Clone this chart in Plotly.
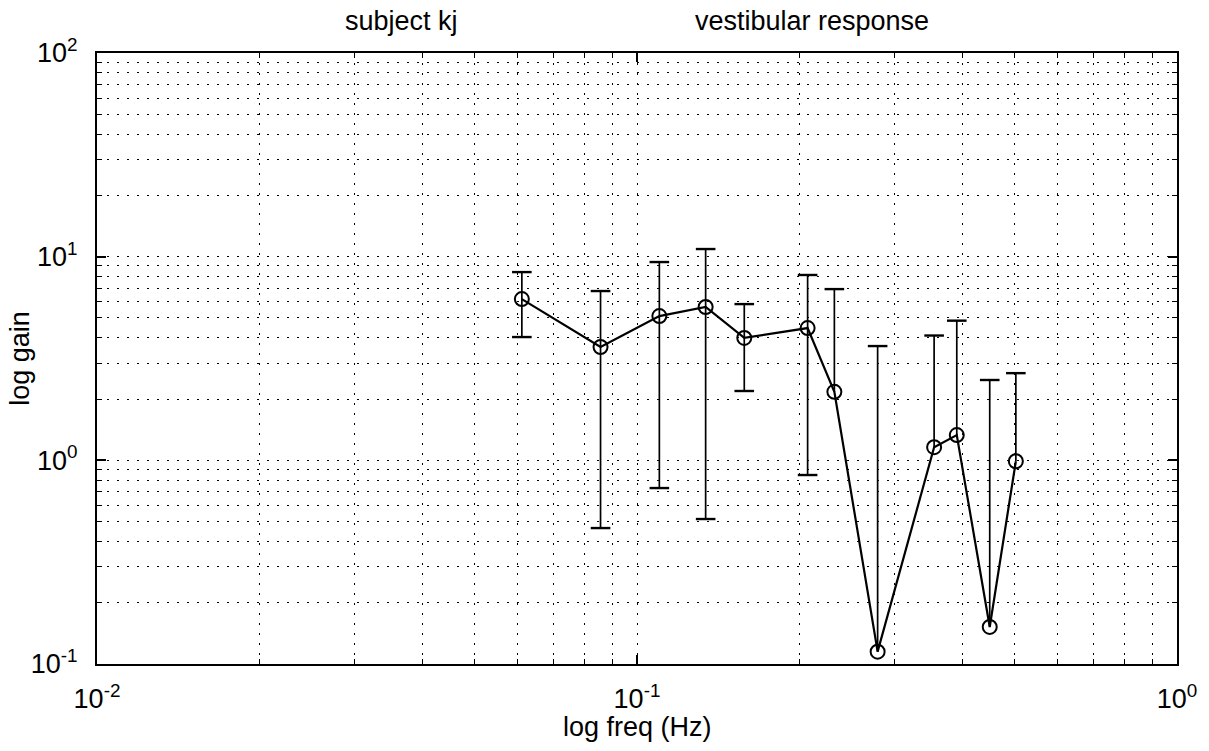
import plotly.graph_objects as go

# ---- data ----
freq = [0.0612, 0.0856, 0.110, 0.134, 0.158, 0.207, 0.232, 0.279, 0.355, 0.391, 0.450, 0.503]
gain = [6.19, 3.60, 5.11, 5.66, 3.99, 4.46, 2.17, 0.115, 1.16, 1.33, 0.152, 0.99]
gain_hi = [8.40, 6.78, 9.41, 10.9, 5.85, 8.13, 6.93, 3.64, 4.10, 4.85, 2.48, 2.68]
gain_lo = [4.03, 0.465, 0.731, 0.515, 2.19, 0.847, None, None, None, None, None, None]

x_tickvals = [0.01, 0.1, 1]
x_ticktext = ["10<sup>-2</sup>", "10<sup>-1</sup>", "10<sup>0</sup>"]
y_tickvals = [0.1, 1, 10, 100]
y_ticktext = ["10<sup>-1</sup>", "10<sup>0</sup>", "10<sup>1</sup>", "10<sup>2</sup>"]

x_minor = [m * 10.0 ** e for e in (-2, -1) for m in range(2, 10)]
y_minor = [m * 10.0 ** e for e in (-1, 0, 1) for m in range(2, 10)]

FONT = "Liberation Sans, Arial, sans-serif"

fig = go.Figure()

# error bar stems
ex, ey = [], []
for f, g, lo, hi in zip(freq, gain, gain_lo, gain_hi):
    ex += [f, f, None]
    ey += [lo if lo is not None else g, hi, None]
fig.add_trace(go.Scatter(x=ex, y=ey, mode="lines",
                         line=dict(color="black", width=1.7),
                         hoverinfo="skip", showlegend=False))

# caps
cx = freq + [f for f, lo in zip(freq, gain_lo) if lo is not None]
cy = gain_hi + [lo for lo in gain_lo if lo is not None]
fig.add_trace(go.Scatter(x=cx, y=cy, mode="markers",
                         marker=dict(symbol="line-ew", size=14,
                                     line=dict(color="black", width=2.4)),
                         hoverinfo="skip", showlegend=False))

# main line with open circles
fig.add_trace(go.Scatter(x=freq, y=gain, mode="lines+markers",
                         line=dict(color="black", width=2.2),
                         marker=dict(symbol="circle-open", size=14,
                                     line=dict(color="black", width=2)),
                         showlegend=False))

grid_dash = "2px,8px"
axis_common = dict(
    type="log", showline=True, linecolor="black", linewidth=2,
    mirror="ticks", ticks="inside", ticklen=9, tickwidth=1.5, tickcolor="black",
    showgrid=True, gridcolor="black", gridwidth=1.4, griddash=grid_dash,
    zeroline=False, tickfont=dict(family=FONT, size=27, color="black"),
)

fig.update_xaxes(range=[-2, 0], tickmode="array", tickvals=x_tickvals, ticktext=x_ticktext,
                 ticklabelstandoff=10,
                 minor=dict(tickmode="array", tickvals=x_minor, ticks="inside", ticklen=5,
                            tickwidth=1.2, tickcolor="black", showgrid=True,
                            gridcolor="black", gridwidth=1.4, griddash=grid_dash),
                 **axis_common)
fig.update_yaxes(range=[-1, 2], tickmode="array", tickvals=y_tickvals, ticktext=y_ticktext,
                 ticklabelstandoff=12,
                 minor=dict(tickmode="array", tickvals=y_minor, ticks="inside", ticklen=5,
                            tickwidth=1.2, tickcolor="black", showgrid=True,
                            gridcolor="black", gridwidth=1.4, griddash=grid_dash),
                 **axis_common)

ann_font = dict(family=FONT, size=27, color="black")
fig.update_layout(
    width=1209, height=751,
    margin=dict(l=97, r=28, t=53, b=87),
    paper_bgcolor="white", plot_bgcolor="white",
    font=dict(family=FONT, color="black"),
    annotations=[
        dict(text="subject kj", x=0.282, y=1.052, xref="paper", yref="paper",
             showarrow=False, font=ann_font, xanchor="center", yanchor="middle"),
        dict(text="vestibular response", x=0.662, y=1.052, xref="paper", yref="paper",
             showarrow=False, font=ann_font, xanchor="center", yanchor="middle"),
        dict(text="log freq (Hz)", x=0.5, y=-0.103, xref="paper", yref="paper",
             showarrow=False, font=ann_font, xanchor="center", yanchor="middle"),
        dict(text="log gain", x=-0.072, y=0.5, xref="paper", yref="paper",
             showarrow=False, font=ann_font, textangle=-90,
             xanchor="center", yanchor="middle"),
    ],
)

fig.write_html("out.html")
